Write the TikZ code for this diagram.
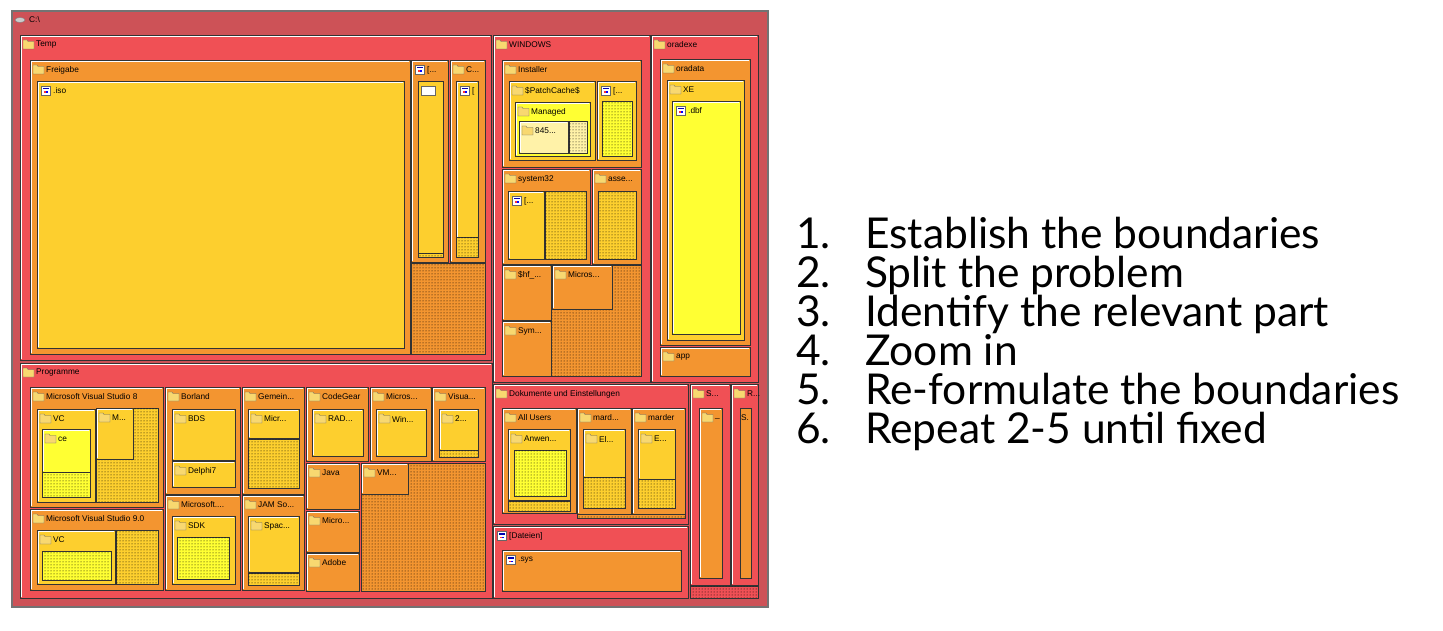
\documentclass[tikz,border=0pt]{standalone}
\usepackage{fontspec}
\usetikzlibrary{patterns}
\newfontfamily\tf{Liberation Sans}
\newfontfamily\lf{Lato}
\definecolor{drv}{HTML}{CD5257}
\definecolor{rd}{HTML}{F05055}
\definecolor{og}{HTML}{F39530}
\definecolor{gd}{HTML}{FDCF2E}
\definecolor{yl}{HTML}{FFFF33}
\definecolor{ly}{HTML}{FFF2A8}
\definecolor{fy}{HTML}{F8D870}
\tikzset{bx/.style={draw=black!80,line width=0.8},
 lbl/.style={anchor=west,inner sep=0,font=\tf\fontsize{8.3}{9}\selectfont},
 item/.style={anchor=base west,inner sep=0,font=\lf\fontsize{42.5}{44}\selectfont}}
\newcommand\hl[4]{\draw[white,line width=0.6] (#1+1.2,#4-1.2) |- (#3-1.2,#2+1.2);}
\newcommand\fic[2]{\filldraw[fill=fy,draw=black!60,line width=0.4] (#1,#2+1) -- ++(4,0) -- ++(1,1.5) -- ++(6,0) -- ++(0,7.5) -- ++(-11,0) -- cycle;}
\newcommand\iic[2]{\filldraw[fill=white,draw=black!60,line width=0.4] (#1,#2) rectangle ++(9,9); \fill[blue!70!black] (#1+1.5,#2+2) rectangle ++(6,1.5); \fill[red!80] (#1+3,#2+5.5) rectangle ++(1.5,1.5); \fill[blue] (#1+5,#2+5.5) rectangle ++(1.5,1.5);}
\newcommand\fb[6]{\filldraw[fill=#5,bx] (#1,#2) rectangle (#3,#4); \hl{#1}{#2}{#3}{#4}\fic{#1+3}{#2+4}\node[lbl] at (#1+16,#2+10) {#6};}
\newcommand\ib[6]{\filldraw[fill=#5,bx] (#1,#2) rectangle (#3,#4); \hl{#1}{#2}{#3}{#4}\iic{#1+4}{#2+5}\node[lbl] at (#1+16,#2+10) {#6};}
\newcommand\pb[5]{\filldraw[fill=#5,bx] (#1,#2) rectangle (#3,#4); \fill[pattern=dots,pattern color=black] (#1+0.5,#2+0.5) rectangle (#3-0.5,#4-0.5);}
\begin{document}
\begin{tikzpicture}[x=1pt,y=-1pt]
\useasboundingbox (0,0) rectangle (1443,631);
% drive
\filldraw[fill=drv,draw=black!55,line width=1.2] (12,11) rectangle (768,607);
\filldraw[fill=gray!40,draw=gray] (20,20) ellipse (5 and 2.5);
\node[lbl] (c) at (29,20) {C:\textbackslash};
% Temp
\fb{20}{35}{491}{360}{rd}{Temp}
\fb{30}{60}{410}{354}{og}{Freigabe}
\ib{37}{81}{404}{348}{gd}{.iso}
\ib{411}{60}{448}{262}{og}{[...}
\filldraw[fill=gd,bx] (418,81) rectangle (443,257);
\filldraw[fill=white,draw=black!60] (421,86) rectangle (435,95);
\pb{418}{253}{443}{257}{gd}
\fb{450}{60}{485}{262}{og}{C...}
\ib{456}{81}{478}{257}{gd}{[}
\pb{456}{237}{478}{257}{gd}
\pb{411}{263}{485}{354}{og}
% WINDOWS
\fb{493}{35}{650}{382}{rd}{WINDOWS}
\pb{502}{265}{641}{376}{og}
\fb{502}{60}{641}{167}{og}{Installer}
\fb{509}{81}{595}{160}{gd}{\$PatchCache\$}
\fb{515}{102}{590}{156}{yl}{Managed}
\fb{519}{121}{568}{153}{ly}{845...}
\pb{569}{121}{587}{153}{ly}
\ib{597}{81}{636}{160}{gd}{[...}
\pb{602}{101}{632}{156}{yl}
\fb{502}{169}{590}{264}{og}{system32}
\ib{508}{191}{544}{259}{gd}{[...}
\pb{545}{191}{586}{259}{gd}
\fb{592}{169}{641}{264}{og}{asse...}
\pb{598}{191}{636}{259}{gd}
\fb{502}{265}{551}{320}{og}{\$hf\_...}
\fb{502}{321}{551}{376}{og}{Sym...}
\fb{552}{265}{612}{309}{og}{Micros...}
% oradexe
\fb{651}{35}{758}{382}{rd}{oradexe}
\fb{660}{59}{750}{345}{og}{oradata}
\fb{667}{80}{744}{340}{gd}{XE}
\ib{672}{101}{740}{334}{yl}{.dbf}
\fb{660}{347}{750}{376}{og}{app}
% Programme
\fb{20}{363}{492}{598}{rd}{Programme}
\fb{30}{387}{163}{507}{og}{Microsoft Visual Studio 8}
\fb{37}{409}{95}{502}{gd}{VC}
\fb{42}{429}{90}{472}{yl}{ce}
\pb{42}{472}{90}{497}{yl}
\pb{96}{408}{158}{502}{gd}
\fb{96}{408}{133}{459}{gd}{M...}
\fb{30}{509}{163}{590}{og}{Microsoft Visual Studio 9.0}
\fb{37}{530}{115}{584}{gd}{VC}
\pb{42}{551}{111}{580}{yl}
\pb{116}{530}{158}{584}{gd}
\fb{165}{387}{240}{494}{og}{Borland}
\fb{172}{409}{235}{460}{gd}{BDS}
\fb{172}{461}{235}{487}{gd}{Delphi7}
\fb{242}{387}{304}{494}{og}{Gemein...}
\fb{248}{409}{299}{438}{gd}{Micr...}
\pb{248}{439}{299}{488}{gd}
\fb{165}{495}{240}{590}{og}{Microsoft....}
\fb{172}{516}{235}{584}{gd}{SDK}
\pb{177}{537}{229}{579}{yl}
\fb{242}{495}{304}{590}{og}{JAM So...}
\fb{248}{516}{299}{572}{gd}{Spac...}
\pb{248}{573}{299}{585}{gd}
\fb{306}{387}{368}{461}{og}{CodeGear}
\fb{312}{409}{363}{456}{gd}{RAD...}
\fb{370}{387}{431}{461}{og}{Micros...}
\fb{376}{409}{426}{456}{gd}{Win...}
\fb{432}{387}{485}{461}{og}{Visua...}
\fb{439}{409}{478}{450}{gd}{2...}
\pb{439}{450}{478}{457}{gd}
\fb{306}{463}{359}{509}{og}{Java}
\fb{306}{511}{359}{552}{og}{Micro...}
\fb{306}{553}{359}{591}{og}{Adobe}
\pb{361}{463}{485}{591}{og}
\fb{361}{463}{408}{494}{og}{VM...}
% Dokumente
\fb{493}{384}{688}{524}{rd}{Dokumente und Einstellungen}
\fb{502}{408}{576}{513}{og}{All Users}
\fb{508}{429}{570}{500}{gd}{Anwen...}
\pb{514}{450}{566}{496}{yl}
\pb{508}{501}{570}{511}{gd}
\pb{577}{513}{685}{518}{og}
\fb{577}{408}{631}{514}{og}{mard...}
\fb{583}{429}{625}{477}{gd}{El...}
\pb{583}{477}{625}{508}{gd}
\fb{632}{408}{685}{514}{og}{marder}
\fb{638}{429}{675}{479}{gd}{E...}
\pb{638}{479}{675}{508}{gd}
\ib{493}{526}{688}{598}{rd}{[Dateien]}
\ib{502}{550}{681}{591}{og}{.sys}
\fb{690}{384}{730}{585}{rd}{S...}
\fb{699}{408}{722}{578}{og}{\_}
\fb{731}{384}{758}{585}{rd}{R...}
\filldraw[fill=og,bx] (740,408) rectangle (751,578);
\node[lbl] at (741,418) {S.};
\pb{690}{586}{758}{598}{rd}
% list
\foreach \n/\t [count=\i] in {1./Establish the boundaries,2./Split the problem,3./Identify the relevant part,4./Zoom in,5./Re-formulate the boundaries,6./Repeat 2-5 until fixed}{
 \node[item] (n\i) at (796,248+39*\i-39) {\n};
 \node[item] (t\i) at (865,248+39*\i-39) {\t};
}
\end{tikzpicture}
\end{document}
